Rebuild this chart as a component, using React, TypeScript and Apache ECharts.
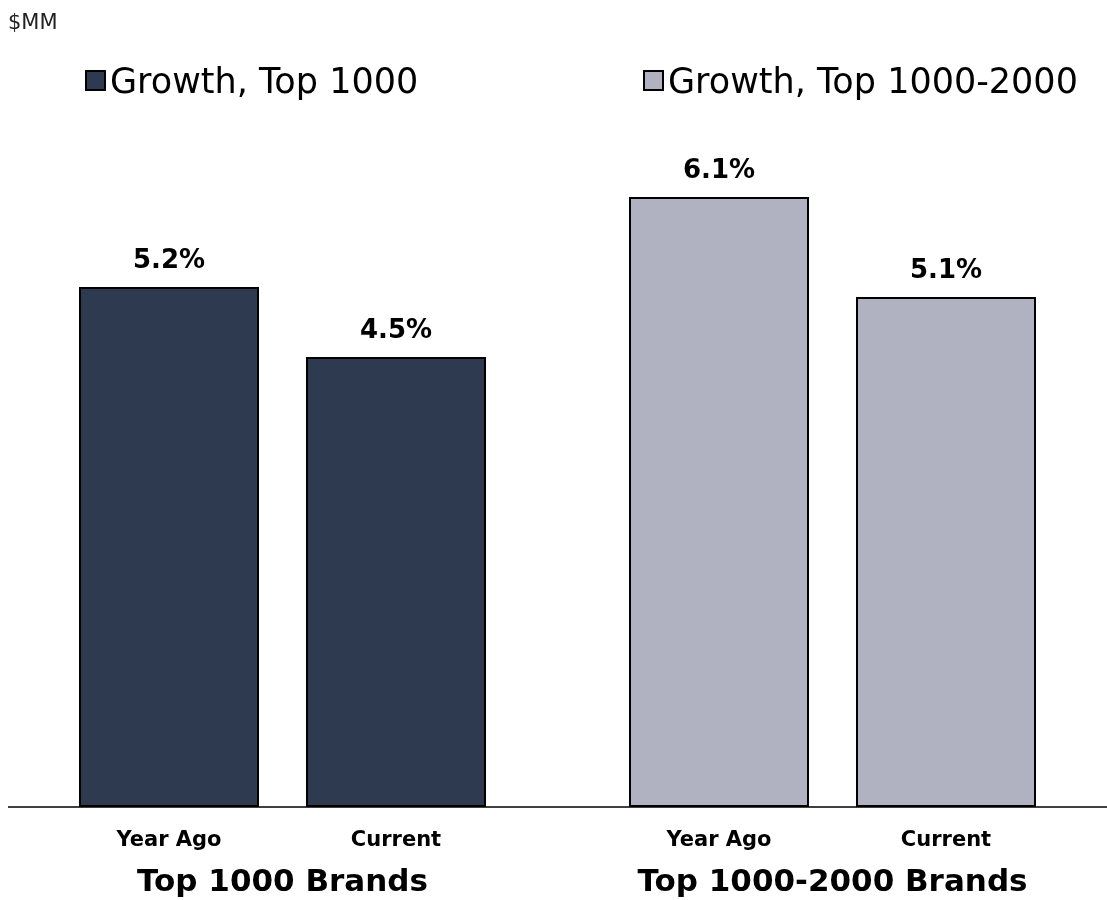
import React, { useEffect, useRef } from "react";
import * as echarts from "echarts";

const periods = ["Year Ago", "Current"];
const groupNames = ["Top 1000 Brands", "Top 1000-2000 Brands"];
const seriesNames = ["Growth, Top 1000", "Growth, Top 1000-2000"];
const top1000Growth = [5.2, 4.5];
const top1000to2000Growth = [6.1, 5.1];
const unitLabel = "$MM";

const FONT = "'DejaVu Sans', sans-serif";
const DARK = "#2E3A50";
const LIGHT = "#B0B2C2";

export default function App() {
  const ref = useRef<HTMLDivElement>(null);

  useEffect(() => {
    if (!ref.current) return;
    const chart = echarts.init(ref.current, undefined, { renderer: "svg" });

    const grids = [
      { left: 55.5, width: 454, top: 107, bottom: 93, outerBoundsMode: "none" },
      { left: 605.5, width: 454, top: 107, bottom: 93, outerBoundsMode: "none" },
    ];

    const xAxes = groupNames.map((g, i) => ({
      type: "category" as const,
      gridIndex: i,
      data: periods,
      axisLine: { show: false },
      axisTick: { show: false },
      axisLabel: {
        margin: 21,
        fontFamily: FONT,
        fontWeight: "bold" as const,
        fontSize: 21,
        color: "#000",
      },
      name: g,
      nameLocation: "middle" as const,
      nameGap: 57,
      nameTextStyle: {
        fontFamily: FONT,
        fontWeight: "bold" as const,
        fontSize: 31,
        color: "#000",
      },
    }));

    const yAxes = groupNames.map((_, i) => ({
      type: "value" as const,
      gridIndex: i,
      min: 0,
      max: 7,
      show: false,
      splitLine: { show: false },
    }));

    const makeSeries = (name: string, data: number[], color: string, idx: number) => ({
      name,
      type: "bar" as const,
      xAxisIndex: idx,
      yAxisIndex: idx,
      data,
      barWidth: 180,
      itemStyle: { color, borderColor: "#000", borderWidth: 2 },
      label: {
        show: true,
        position: "top" as const,
        distance: 15,
        formatter: (p: any) => `${p.value.toFixed(1)}%`,
        fontFamily: FONT,
        fontWeight: "bold" as const,
        fontSize: 26,
        color: "#000",
      },
    });

    const legendBase = {
      top: 58,
      itemWidth: 19,
      itemHeight: 19,
      icon: "rect",
      textStyle: { fontFamily: FONT, fontSize: 35, color: "#000" },
    };

    chart.setOption({
      animation: false,
      title: {
        text: unitLabel,
        left: 3,
        top: 6,
        textStyle: { fontFamily: FONT, fontSize: 21, fontWeight: "normal", color: "#222" },
      },
      legend: [
        { ...legendBase, left: 80, data: [seriesNames[0]] },
        { ...legendBase, left: 638, data: [seriesNames[1]] },
      ],
      grid: grids,
      xAxis: xAxes,
      yAxis: yAxes,
      series: [
        makeSeries(seriesNames[0], top1000Growth, DARK, 0),
        makeSeries(seriesNames[1], top1000to2000Growth, LIGHT, 1),
      ],
      graphic: [
        {
          type: "line",
          shape: { x1: 8, y1: 807, x2: 1107, y2: 807 },
          style: { stroke: "#000", lineWidth: 1.5 },
          z: 10,
        },
      ],
    });

    return () => chart.dispose();
  }, []);

  return (
    <div
      ref={ref}
      style={{ position: "fixed", left: 0, top: 0, width: 1107, height: 900 }}
    />
  );
}
